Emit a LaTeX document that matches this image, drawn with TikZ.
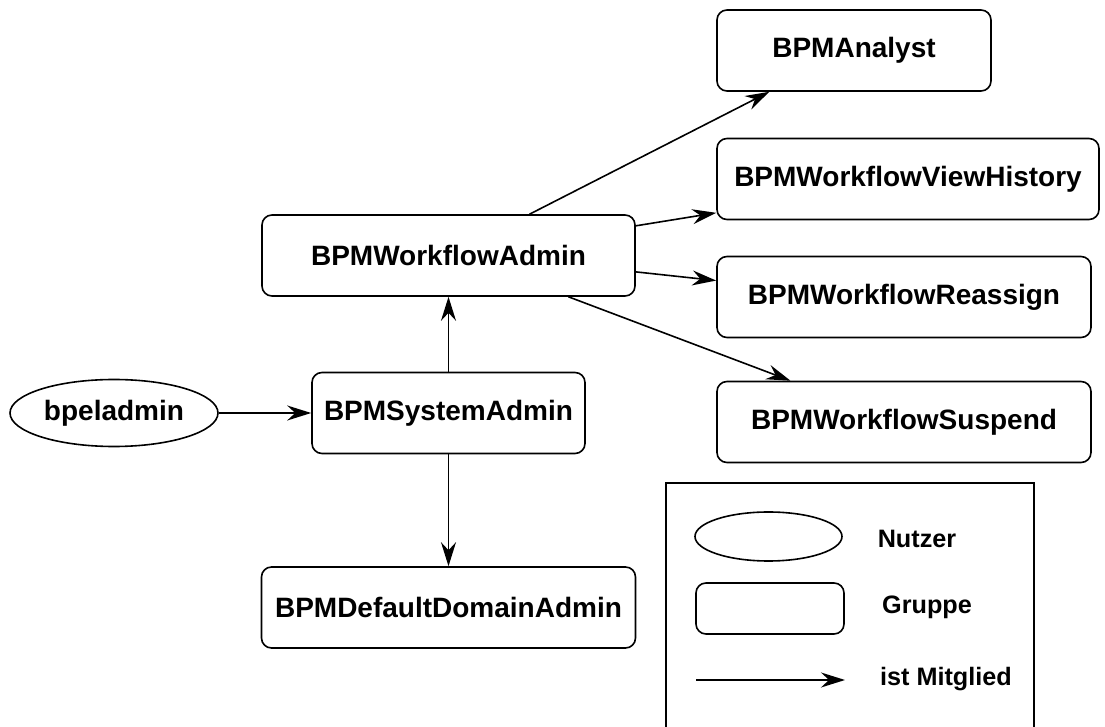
\documentclass[tikz,border=0pt]{standalone}
\usepackage{fontspec}
\setmainfont{Liberation Sans}
\usetikzlibrary{arrows.meta,shapes.geometric}

\begin{document}
\begin{tikzpicture}[x=0.5pt, y=-0.5pt,
    font=\bfseries\fontsize{14}{16}\selectfont,
    group/.style={draw, line width=0.8pt, rounded corners=5pt,
        minimum height=40.5pt, inner sep=0pt},
    user/.style={draw, ellipse, line width=0.8pt, inner sep=0pt},
    member/.style={-{Stealth[length=12pt, width=7.5pt, inset=4pt]}, line width=0.8pt},
    legend/.style={font=\bfseries\fontsize{12.6}{14}\selectfont}]

    \clip (0,0) rectangle (1105,727);

    \node[group, minimum width=137pt] (Analyst) at (854,50.5) {BPMAnalyst};
    \node[group, minimum width=191pt] (ViewHistory) at (908,179) {BPMWorkflowViewHistory};
    \node[group, minimum width=186.5pt] (WfAdmin) at (448.5,255.5) {BPMWorkflowAdmin};
    \node[group, minimum width=187pt] (Reassign) at (904,297) {BPMWorkflowReassign};
    \node[group, minimum width=187pt] (Suspend) at (904,422) {BPMWorkflowSuspend};
    \node[group, minimum width=136.5pt] (SysAdmin) at (448.5,413) {BPMSystemAdmin};
    \node[group, minimum width=187pt] (DomainAdmin) at (448.5,607.5) {BPMDefaultDomainAdmin};
    \node[user, minimum width=104pt, minimum height=33.5pt] (bpeladmin) at (114,413) {bpeladmin};

    \foreach \from/\to in {
        WfAdmin.27/Analyst.206, WfAdmin.9/ViewHistory.190,
        WfAdmin.-5/Reassign.175, WfAdmin.-19.6/Suspend.160.3,
        SysAdmin.north/WfAdmin.south, SysAdmin.south/DomainAdmin.north,
        bpeladmin.east/SysAdmin.west}
    \draw [member] (\from)--(\to);

    % Legende
    \draw[line width=0.8pt] (666,483) rectangle (1034,760);
    \node[user, minimum width=73.5pt, minimum height=24.5pt] (LegUser) at (768.5,536.5) {};
    \node[group, minimum width=74pt, minimum height=25.5pt] (LegGroup) at (770,608.5) {};
    \coordinate (LegFrom) at (696,680);
    \coordinate (LegTo) at (845,680);
    \draw [member] (LegFrom)--(LegTo);
    \node[legend] (LegUserText) at (917,539) {Nutzer};
    \node[legend] (LegGroupText) at (927,607) {Gruppe};
    \node[legend] (LegMemberText) at (946,679) {ist Mitglied};

\end{tikzpicture}
\end{document}
